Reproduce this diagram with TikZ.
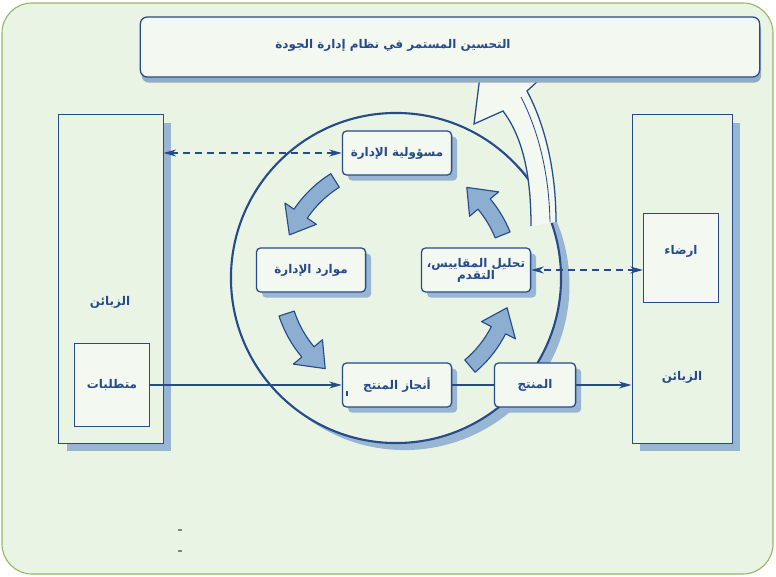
\documentclass[tikz,border=0pt]{standalone}
\usepackage{fontspec}
\newfontfamily\arabicfont[Script=Arabic]{DejaVu Sans}
\TeXXeTstate=1
\usetikzlibrary{arrows.meta, shadows}

\definecolor{paper}{RGB}{234,244,228}
\definecolor{frame}{RGB}{150,182,104}
\definecolor{ink}{RGB}{38,74,138}
\definecolor{boxfill}{RGB}{243,248,240}
\definecolor{shade}{RGB}{152,182,212}
\definecolor{fatfill}{RGB}{140,174,208}

\begin{document}
\begin{tikzpicture}[x=0.025cm, y=-0.025cm,
    stage/.style={draw=ink, line width=0.9pt, fill=boxfill, rounded corners=3pt,
        minimum width=2.73cm, minimum height=1.1cm, align=center,
        font=\arabicfont\bfseries\fontsize{8.5}{9.5}\selectfont, text=ink,
        drop shadow={fill=shade, opacity=1, shadow xshift=4pt, shadow yshift=-4pt}},
    bigbox/.style={draw=ink, line width=0.7pt, fill=paper,
        minimum width=2.6cm, minimum height=8.2cm,
        drop shadow={fill=shade, opacity=1, shadow xshift=5.5pt, shadow yshift=-6pt}},
    subbox/.style={draw=ink, line width=0.7pt, fill=boxfill, minimum width=1.88cm,
        font=\arabicfont\bfseries\fontsize{8.5}{9.5}\selectfont, text=ink},
    lbl/.style={font=\arabicfont\bfseries\fontsize{8.5}{9.5}\selectfont, text=ink},
    flow/.style={draw=ink, line width=0.8pt, >={Stealth[length=9pt, width=5pt]}},
    dashlink/.style={flow, <->, dash pattern=on 5pt off 3.5pt}]
    \useasboundingbox (0,0) rectangle (776,577);
    \draw[frame, fill=paper, line width=0.8pt, rounded corners=0.75cm] (2,3) rectangle (773,574);

    % the cycle
    \node[circle, draw=ink, line width=1.5pt, fill=paper, minimum size=8.25cm,
        drop shadow={fill=shade, opacity=1, shadow xshift=6pt, shadow yshift=-5pt}] (ring) at (396,278) {};

    % continual improvement arrow
    \draw[ink, line width=0.9pt, fill=boxfill] (531,226) .. controls (531,170) and (521,135) .. (503,111)
        -- (474,124) -- (480,76) -- (510,40) -- (550,70) -- (527,91)
        .. controls (545,125) and (556,170) .. (556,222);
    \draw[ink, line width=0.6pt] (521,97) .. controls (538,130) and (549,172) .. (550,222);

    \node[draw=ink, line width=0.9pt, fill=boxfill, rounded corners=5pt,
        minimum width=15.48cm, minimum height=1.5cm,
        drop shadow={fill=shade!80!gray, opacity=1, shadow xshift=1pt, shadow yshift=-4pt}] (improve) at (450,47) {};
    \node[lbl] (improvetext) at (393,45) {\beginR التحسين المستمر في نظام إدارة الجودة\endR};

    % fat arrows between the stages
    \begin{scope}[shift={(396,278)}, yscale=-1]
        \foreach \a/\b [evaluate=\b as \h using \b-12] in {22/52, 122/158, 198/232, -50/-15}
            \draw[ink, line width=0.8pt, fill=fatfill, line join=round]
                (\a:107) arc[start angle=\a, end angle=\h, radius=107] -- (\h:96)
                -- (\b:115) -- (\h:134) -- (\h:123)
                arc[start angle=\h, end angle=\a, radius=123] -- cycle;
    \end{scope}

    % customers
    \node[bigbox] (custin) at (111,279) {};
    \node[lbl] (custintext) at (110,302) {\beginR الزبائن\endR};
    \node[subbox, minimum height=2.08cm] (req) at (112,385) {\beginR متطلبات\endR};

    \node[bigbox, minimum width=2.5cm] (custout) at (682,279) {};
    \node[lbl] (custouttext) at (682,377) {\beginR الزبائن\endR};
    \node[subbox, minimum height=2.2cm, text depth=12pt] (sat) at (681,258) {\beginR ارضاء\endR};

    % stages
    \node[stage] (resp) at (397,153) {\beginR مسؤولية الإدارة\endR};
    \node[stage] (res) at (311,270) {\beginR موارد الإدارة\endR};
    \node[stage] (anal) at (476,270) {\beginR تحليل المقاييس،\endR\\[-1pt]\beginR التقدم\endR};
    \node[stage] (real) at (397,385) {\beginR أنجاز المنتج\endR};
    \node[stage, minimum width=2.03cm] (prod) at (535,385) {\beginR المنتج\endR};
    \draw[ink, line width=0.8pt] (347,391) -- (347,396);

    % links
    \draw[dashlink] (custin.east |- resp.west) -- (resp.west);
    \draw[dashlink] (sat.west |- anal.east) -- (anal.east);
    \draw[flow, ->] (req.east) -- (real.west);
    \draw[flow] (real.east) -- (prod.west);
    \draw[flow, ->] (prod.east) -- (prod.east -| custout.west);

    \draw[gray, line width=1pt] (178,530) -- (182,530);
    \draw[gray, line width=1pt] (178,551) -- (182,551);
\end{tikzpicture}
\end{document}
